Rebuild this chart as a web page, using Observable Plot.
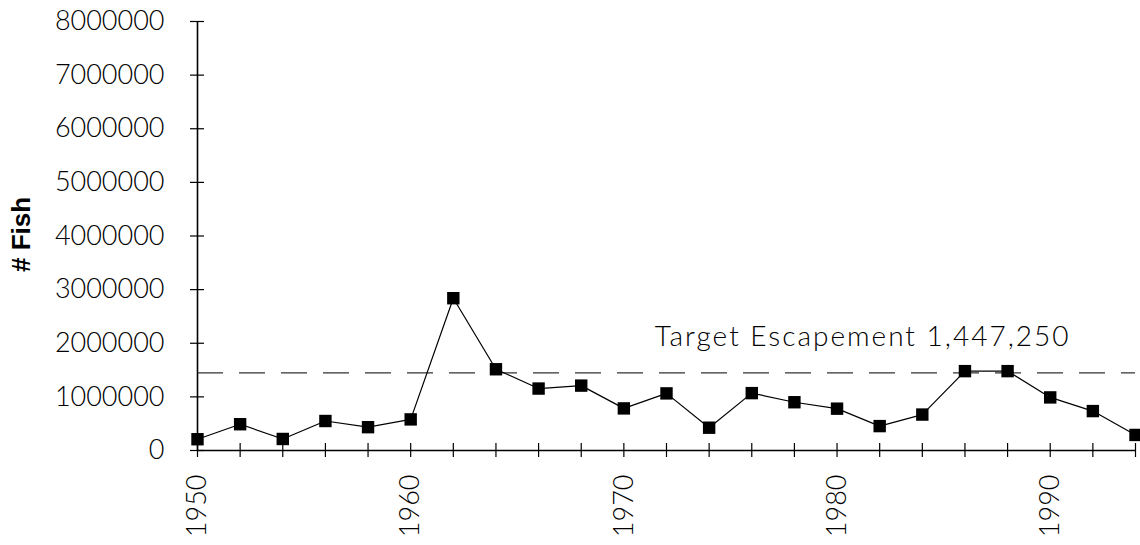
<!DOCTYPE html>
<html><head><meta charset="utf-8">
<script src="https://cdn.jsdelivr.net/npm/d3@7"></script>
<script src="https://cdn.jsdelivr.net/npm/@observablehq/plot@0.6"></script>
<style>body{margin:0;background:#fff}</style>
</head><body><div id="chart"></div>
<script>
const years = [1950,1952,1954,1956,1958,1960,1962,1964,1966,1968,1970,1972,1974,1976,1978,1980,1982,1984,1986,1988,1990,1992,1994];
const fish = [210000,490000,215000,550000,435000,580000,2840000,1515000,1155000,1210000,785000,1065000,425000,1070000,900000,780000,455000,670000,1480000,1480000,990000,735000,290000];
const target = 1447250;
const targetLabel = "Target Escapement 1,447,250";
const yLabel = "# Fish";
const yTicks = [0,1000000,2000000,3000000,4000000,5000000,6000000,7000000,8000000];
const xTicks = d3.range(1950, 1995, 2);
const xLabels = [1950,1960,1970,1980,1990];
const data = years.map((year, i) => ({year, fish: fish[i]}));
const x0 = xTicks[0];

const chart = Plot.plot({
  width: 1140, height: 545,
  marginLeft: 197, marginRight: 5, marginTop: 21, marginBottom: 95,
  style: {fontFamily: "Lato, sans-serif", background: "#fff", color: "#000"},
  x: {domain: [1950, 1994]},
  y: {domain: [0, 8000000]},
  marks: [
    Plot.ruleY([target], {stroke: "#333", strokeWidth: 1.3, strokeDasharray: "26,16"}),
    Plot.ruleX([x0], {stroke: "#000", strokeWidth: 1.6}),
    Plot.ruleY([0], {stroke: "#000", strokeWidth: 1.3}),
    // crossing tick marks on the y axis
    Plot.ruleY(yTicks, {y: d => d, x1: () => x0, x2: () => x0, insetLeft: -7, insetRight: -7, stroke: "#000", strokeWidth: 1.2}),
    // crossing tick marks on the x axis
    Plot.ruleX(xTicks, {x: d => d, y1: () => 0, y2: () => 0, insetTop: -7, insetBottom: -7, stroke: "#000", strokeWidth: 1.2}),
    Plot.axisY(yTicks, {tickSize: 0, tickPadding: 33, tickFormat: d3.format("d"), label: null, fontSize: 27, fontWeight: 300}),
    Plot.axisX(xLabels, {tickSize: 0, tickPadding: 24, tickRotate: -90, tickFormat: d3.format("d"), label: null, fontSize: 27, fontWeight: 300}),
    Plot.line(data, {x: "year", y: "fish", stroke: "#000", strokeWidth: 1.2}),
    Plot.dot(data, {x: "year", y: "fish", symbol: "square", r: 7, fill: "#000", stroke: null}),
    Plot.text([targetLabel], {frameAnchor: "right", y: () => target, text: d => d, textAnchor: "end", lineAnchor: "bottom", dx: -65, dy: -27, fontSize: 28, fontWeight: 300}),
    Plot.text([yLabel], {frameAnchor: "left", text: d => d, rotate: -90, dx: -176, dy: 36, fontSize: 26, fontWeight: "bold", fontFamily: "Liberation Sans, Arial, sans-serif"})
  ]
});
d3.select(chart).selectAll("text").filter(function() { return this.textContent === targetLabel; }).attr("letter-spacing", "2px");
document.getElementById("chart").appendChild(chart);
</script>
</body></html>
